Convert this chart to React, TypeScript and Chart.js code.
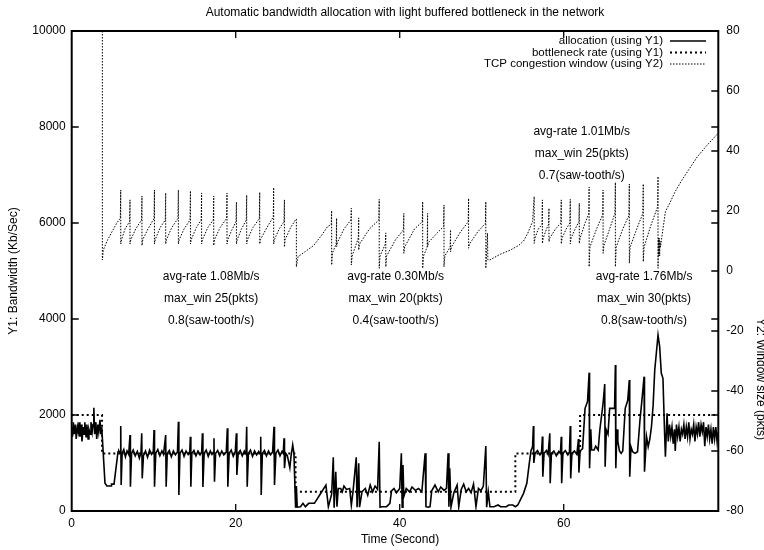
import React, { useEffect, useRef } from "react";
import { Chart, registerables } from "chart.js";

Chart.register(...registerables);

const FONT = '"Liberation Sans", Arial, Helvetica, sans-serif';

// ---------- text ----------
const titleText = "Automatic bandwidth allocation with light buffered bottleneck in the network";
const xTitle = "Time (Second)";
const y1Title = "Y1: Bandwidth (Kb/Sec)";
const y2Title = "Y2: Window size (pkts)";
const legendLabels = [
  "allocation (using Y1)",
  "bottleneck rate (using Y1)",
  "TCP congestion window (using Y2)",
];
const noteA = ["avg-rate 1.08Mb/s", "max_win 25(pkts)", "0.8(saw-tooth/s)"];
const noteB = ["avg-rate 0.30Mb/s", "max_win 20(pkts)", "0.4(saw-tooth/s)"];
const noteC = ["avg-rate 1.76Mb/s", "max_win 30(pkts)", "0.8(saw-tooth/s)"];
const noteD = ["avg-rate 1.01Mb/s", "max_win 25(pkts)", "0.7(saw-tooth/s)"];

// ---------- ticks ----------
const xTicks = [0, 20, 40, 60];
const y1Ticks = [0, 2000, 4000, 6000, 8000, 10000];
const y2Ticks = [-80, -60, -40, -20, 0, 20, 40, 60, 80];
const xMax = 78.85;

// ---------- data: [time (s), value] ----------
const bottleneck: [number, number][] = [
  [0, 2000], [3.7, 2000], [3.7, 1200], [27.3, 1200], [27.3, 400], [54.1, 400],
  [54.1, 1200], [62.0, 1200], [62.0, 2000], [78.85, 2000],
];

const allocation: [number, number][] = [
  [0, 1750], [0.1, 1550], [0.2, 1850], [0.3, 1600], [0.45, 1800], [0.55, 1500], [0.7, 1750],
  [0.8, 1650], [0.9, 1850], [1.0, 1550], [1.15, 1800], [1.25, 1450], [1.4, 1750], [1.5, 1600],
  [1.6, 1850], [1.75, 1550], [1.85, 1800], [2.0, 1500], [2.1, 1700], [2.25, 1600], [2.35, 1850],
  [2.5, 1650], [2.6, 1800], [2.7, 2150], [2.8, 1600], [2.95, 1850], [3.05, 1500], [3.2, 1800],
  [3.3, 1650], [3.45, 1900], [3.55, 1600], [3.66, 1750], [4.06, 577], [4.3, 520], [4.8, 520],
  [4.85, 560], [5.16, 560], [5.65, 1235],
  [5.75, 1250], [5.9, 1200], [5.98, 1770], [6.03, 540], [6.15, 1200], [6.35, 1280], [6.55, 1130],
  [6.75, 1250], [6.95, 1180], [7.11, 1583], [7.16, 506], [7.3, 1200], [7.5, 1270], [7.75, 1150],
  [8.0, 1240], [8.25, 1100], [8.45, 1220], [8.54, 1618], [8.6, 680], [8.75, 1150], [9.0, 1250],
  [9.25, 1120], [9.5, 1270], [9.75, 1180], [9.95, 1240], [10.04, 1687], [10.1, 506], [10.25, 1200],
  [10.5, 1280], [10.75, 1150], [11.0, 1250], [11.2, 1180], [11.46, 1583], [11.52, 506], [11.65, 1200],
  [11.9, 1260], [12.15, 1130], [12.4, 1250], [12.65, 1170], [12.9, 1230], [13.01, 1860], [13.07, 333],
  [13.2, 1200], [13.45, 1270], [13.7, 1140], [13.95, 1250], [14.2, 1180], [14.4, 1240], [14.47, 1548],
  [14.53, 506], [14.65, 1200], [14.9, 1260], [15.15, 1150], [15.4, 1250], [15.65, 1170], [15.85, 1230],
  [15.94, 1618], [16.0, 500], [16.15, 1200], [16.4, 1270], [16.65, 1140], [16.9, 1250], [17.1, 1180],
  [17.28, 1230], [17.35, 1514], [17.41, 610], [17.55, 1200], [17.8, 1260], [18.05, 1150], [18.3, 1250],
  [18.55, 1170], [18.85, 1230], [18.98, 1722], [19.04, 506], [19.2, 1200], [19.45, 1270], [19.7, 1140],
  [19.95, 1240], [20.08, 1618], [20.14, 750], [20.3, 1200], [20.55, 1260], [20.8, 1150], [21.05, 1250],
  [21.25, 1190], [21.34, 1756], [21.4, 506], [21.55, 1200], [21.8, 1270], [22.05, 1140], [22.3, 1250],
  [22.55, 1170], [22.8, 1240], [22.98, 1200], [23.05, 1548], [23.11, 333], [23.25, 1200], [23.5, 1260],
  [23.75, 1150], [24.0, 1250], [24.25, 1170], [24.5, 1230], [24.67, 1756], [24.73, 540], [24.9, 1200],
  [25.15, 1270], [25.4, 1150], [25.65, 1240], [25.8, 1200], [25.89, 1514], [25.95, 890], [26.1, 1200],
  [26.3, 1150], [26.6, 900], [26.75, 1150], [26.95, 1375], [27.1, 1200],
  [27.3, 70], [27.4, 520], [27.5, 80], [27.9, 90], [28.2, 160], [28.5, 90], [28.9, 160], [29.6, 160],
  [30.3, 350], [31.0, 540], [31.3, 90], [31.7, 350], [31.9, 1118], [32.0, 70], [32.2, 819], [32.35, 90],
  [32.5, 470], [32.8, 470], [33.0, 400], [33.2, 520], [33.5, 450], [33.9, 470], [34.1, 120], [34.3, 400],
  [34.7, 1118], [34.8, 80], [35.0, 993], [35.1, 80], [35.4, 400], [35.8, 470], [36.1, 330], [36.4, 540],
  [36.7, 400], [37.0, 520], [37.3, 450], [37.5, 1444], [37.6, 80], [37.8, 90], [38.4, 90], [38.8, 160],
  [39.0, 420], [39.3, 470], [39.6, 380], [40.0, 470], [40.2, 1201], [40.3, 80], [40.4, 958], [40.5, 300],
  [40.8, 470], [41.2, 400], [41.5, 500], [41.9, 430], [42.3, 470], [42.7, 400], [43.1, 1201], [43.2, 90],
  [43.5, 80], [43.7, 90], [43.9, 420], [44.3, 540], [44.7, 400], [45.0, 500], [45.4, 430], [45.7, 470],
  [45.9, 1201], [46.0, 90], [46.1, 889], [46.25, 80], [46.6, 380], [47.0, 541], [47.2, 90], [47.5, 450],
  [47.8, 560], [48.1, 400], [48.4, 470], [48.7, 380], [49.0, 560], [49.3, 90], [49.6, 470], [49.9, 420],
  [50.2, 520], [50.5, 1354], [50.6, 80], [50.8, 400], [51.0, 90], [51.5, 90], [52.0, 125], [52.3, 90],
  [53.0, 90], [53.3, 125], [53.8, 125], [54.1, 90], [54.4, 125], [55.1, 368], [55.5, 577], [55.8, 993],
  [56.0, 1250], [56.2, 1340], [56.3, 1770], [56.35, 1000], [56.5, 1200], [56.8, 1260], [57.1, 1170],
  [57.3, 1230], [57.4, 1550], [57.45, 715], [57.6, 1200], [57.9, 1260], [58.1, 1180], [58.3, 1618],
  [58.35, 577], [58.5, 1200], [58.8, 1250], [59.1, 1150], [59.4, 1240], [59.6, 1200], [59.7, 1548],
  [59.75, 577], [59.9, 1200], [60.2, 1260], [60.5, 1170], [60.7, 1230], [60.8, 1770], [60.85, 680],
  [61.0, 1200], [61.3, 1250], [61.6, 1180], [61.8, 1500], [61.85, 800], [62.0, 1250],
  [62.3, 1300], [62.6, 2139], [62.9, 2277], [63.1, 2882], [63.15, 889], [63.3, 1700], [63.4, 1271],
  [63.7, 1271], [63.9, 1350], [64.2, 1271], [64.4, 1687], [64.8, 2243], [65.0, 2645], [65.05, 923],
  [65.2, 1687], [65.4, 1600], [65.6, 2139], [66.0, 2139], [66.2, 2139], [66.3, 3041], [66.35, 889],
  [66.5, 1700], [66.6, 1444], [66.8, 1250], [67.0, 1200], [67.2, 1250], [67.5, 2139], [67.8, 2300],
  [68.0, 2729], [68.05, 715], [68.2, 1340], [68.4, 1235], [68.7, 1201], [69.0, 1235], [69.3, 1895],
  [69.5, 2243], [69.8, 2798], [69.85, 819], [70.1, 1548], [70.3, 1340], [70.5, 1500], [70.7, 1757],
  [70.9, 2200], [71.1, 2937], [71.5, 3666], [71.7, 3423], [71.9, 2868], [72.1, 2764], [72.3, 1618],
  [72.4, 1131], [72.6, 2035],
  [72.75, 1450], [72.9, 1800], [73.05, 1550], [73.2, 1750], [73.35, 1400], [73.5, 1700], [73.6, 1250],
  [73.75, 1800], [73.9, 1550], [74.05, 1750], [74.2, 1450], [74.35, 1700], [74.5, 1600], [74.65, 1800],
  [74.8, 1500], [74.95, 1750], [75.1, 1550], [75.25, 1850], [75.4, 1500], [75.55, 1700], [75.7, 1600],
  [75.85, 1800], [76.0, 1450], [76.15, 1750], [76.3, 1600], [76.45, 1850], [76.6, 1550], [76.75, 1800],
  [76.9, 1650], [77.05, 1850], [77.2, 1350], [77.35, 1750], [77.5, 1550], [77.65, 1800], [77.8, 1500],
  [77.95, 1700], [78.1, 1400], [78.25, 1750], [78.4, 1500], [78.55, 1750], [78.7, 1450], [78.85, 1650],
];

const tcpWindow: [number, number][] = [
  [3.74, 80], [3.74, 3.7], [3.85, 7], [4.4, 10.5], [5.0, 13.5], [5.5, 16], [5.93, 17.6],
  [5.98, 27], [5.98, 9], [6.08, 10.5], [6.5, 14], [7.06, 16.5], [7.11, 23.7], [7.11, 9], [7.21, 10.5],
  [7.8, 14], [8.52, 17], [8.57, 25], [8.57, 8.5], [8.67, 10.5], [9.3, 14], [10.04, 17.5], [10.09, 27],
  [10.09, 9], [10.19, 10.5], [10.8, 14.5], [11.41, 17], [11.46, 26], [11.46, 9], [11.56, 10.5],
  [12.2, 14.5], [12.96, 17.5], [13.01, 27], [13.01, 9], [13.11, 10.5], [13.7, 14], [14.43, 17],
  [14.48, 26.7], [14.48, 9], [14.58, 10.5], [15.2, 14.5], [15.79, 17], [15.84, 26], [15.84, 9],
  [15.94, 10.5], [16.6, 14.5], [17.27, 17], [17.32, 25], [17.32, 8.5], [17.42, 10.5], [18.1, 14.5],
  [18.89, 17.5], [18.94, 26], [18.94, 9], [19.04, 10.5], [19.5, 13.5], [20.04, 16.5], [20.09, 23],
  [20.09, 9], [20.19, 10.5], [20.7, 14], [21.29, 17], [21.34, 25.3], [21.34, 9], [21.44, 10.5],
  [22.1, 14.5], [22.88, 17.5], [22.93, 26.2], [22.93, 9], [23.03, 10.5], [23.8, 14.5], [24.58, 18],
  [24.63, 27.8], [24.63, 9], [24.73, 10.5], [25.3, 14], [25.89, 16.5], [25.94, 23.7], [25.94, 8],
  [26.04, 10.5], [26.7, 14.5], [27.35, 17.3], [27.4, 17.3],
  [27.4, 1.4], [27.6, 4.8], [28.5, 6.5], [29.5, 8.5], [30.5, 12], [31.2, 14.8], [31.65, 15.5],
  [31.7, 20.1], [31.7, 2], [31.8, 6], [32.25, 9], [32.3, 17.6], [32.3, 8.1], [32.4, 9.5], [33.2, 14],
  [34.05, 17], [34.1, 20.9], [34.1, 2], [34.2, 5], [34.95, 11], [35.0, 17.7], [35.0, 7], [35.1, 9],
  [36.3, 14], [37.45, 17], [37.5, 23.9], [37.5, 0.9], [37.6, 5], [38.25, 9], [38.3, 12.7], [38.3, 1.4],
  [38.4, 5], [39.5, 10.5], [40.45, 13.7], [40.5, 19.2], [40.5, 5.9], [40.6, 8], [41.8, 14],
  [42.75, 16.4], [42.8, 23.1], [42.8, 0.9], [42.9, 5], [43.35, 8], [43.4, 19.2], [43.4, 8.1],
  [43.5, 9.5], [44.5, 12.5], [45.35, 14.8], [45.4, 22], [45.4, 1.4], [45.5, 5], [46.15, 8],
  [46.2, 13.7], [46.2, 6.4], [46.3, 8], [47.4, 13], [48.35, 16.4], [48.4, 24.2], [48.4, 7.6],
  [48.5, 9], [49.5, 13], [50.45, 15.9], [50.5, 23.1], [50.5, 0.9], [50.6, 6], [50.7, 12.6],
  [50.75, 3.7], [51.0, 3.7], [52.2, 5.5], [53.5, 7], [54.5, 8.5], [55.1, 10], [55.6, 12.5],
  [56.2, 16.5], [56.4, 24.8], [56.4, 9.2], [56.5, 11], [56.9, 14], [57.35, 15.5], [57.4, 23.7],
  [57.4, 9.2], [57.5, 11], [57.9, 14], [58.15, 15.5], [58.2, 20.9], [58.2, 9.8], [58.3, 11],
  [59.0, 14], [59.65, 16], [59.7, 23.7], [59.7, 9], [59.8, 11], [60.3, 14], [60.75, 16], [60.8, 23.9],
  [60.8, 9], [60.9, 11], [61.4, 14], [61.85, 16.5], [61.9, 22.6], [61.9, 9.2], [62.0, 11], [62.6, 16],
  [63.05, 19], [63.1, 28], [63.1, 1.4], [63.2, 8], [64.0, 14], [64.75, 18.7], [64.8, 27], [64.8, 5.9],
  [64.9, 8.5], [65.6, 14], [66.25, 19.3], [66.3, 29.5], [66.3, 1.4], [66.4, 8], [67.2, 14],
  [67.95, 18.5], [68.0, 29], [68.0, 2.6], [68.1, 8], [68.9, 14], [69.65, 19.2], [69.7, 29],
  [69.7, 3.1], [69.8, 8], [70.6, 15], [71.45, 21.4], [71.5, 31.5], [71.5, 0.9], [71.55, 11],
  [71.6, 5], [71.65, 11], [71.7, 5], [71.75, 10], [71.8, 8], [72.0, 12], [72.4, 19.8], [73.0, 23],
  [73.6, 26.5], [74.3, 29.8], [75.3, 34], [76.3, 38.1], [77.5, 42], [78.85, 46],
];

const toXY = (arr: [number, number][]) => arr.map(([x, y]) => ({ x, y }));

const overlayPlugin = {
  id: "gnuplotOverlay",
  afterDraw(chart: any) {
    const { ctx, chartArea: a, scales } = chart;
    const sx = scales.x, sy = scales.y, sy2 = scales.y2;
    ctx.save();
    ctx.setLineDash([]);
    ctx.strokeStyle = "#000";
    ctx.fillStyle = "#000";

    // border
    ctx.lineWidth = 2;
    ctx.strokeRect(a.left, a.top, a.right - a.left, a.bottom - a.top);

    // inward ticks (mirrored for x and y1)
    const T = 7;
    ctx.lineWidth = 1.3;
    ctx.beginPath();
    for (const v of xTicks) {
      const p = sx.getPixelForValue(v);
      if (p <= a.left + 1) continue;
      ctx.moveTo(p, a.bottom); ctx.lineTo(p, a.bottom - T);
      ctx.moveTo(p, a.top); ctx.lineTo(p, a.top + T);
    }
    for (const v of y1Ticks) {
      const p = sy.getPixelForValue(v);
      if (p >= a.bottom - 1 || p <= a.top + 1) continue;
      ctx.moveTo(a.left, p); ctx.lineTo(a.left + T, p);
      ctx.moveTo(a.right, p); ctx.lineTo(a.right - T, p);
    }
    for (const v of y2Ticks) {
      const p = sy2.getPixelForValue(v);
      if (p >= a.bottom - 1 || p <= a.top + 1) continue;
      ctx.moveTo(a.right, p); ctx.lineTo(a.right - T, p);
    }
    ctx.stroke();

    // titles
    ctx.font = `12px ${FONT}`;
    ctx.textAlign = "center";
    ctx.textBaseline = "middle";
    ctx.fillText(titleText, 405, 13);
    ctx.fillText(xTitle, 400, 540);

    ctx.save();
    ctx.translate(14, (a.top + a.bottom) / 2);
    ctx.rotate(-Math.PI / 2);
    ctx.fillText(y1Title, 0, 0);
    ctx.restore();

    ctx.save();
    ctx.translate(760, 318);
    ctx.rotate(Math.PI / 2);
    ctx.textAlign = "left";
    ctx.fillText(y2Title, 0, 0);
    ctx.restore();

    // legend
    const rows = [41, 52.5, 64];
    const styles = [
      { w: 1.5, d: [] as number[] },
      { w: 2, d: [2, 3] },
      { w: 1, d: [1.5, 1.5] },
    ];
    ctx.font = `11.5px ${FONT}`;
    ctx.textAlign = "right";
    legendLabels.forEach((lab, i) => {
      ctx.setLineDash([]);
      ctx.fillText(lab, 663, rows[i]);
      ctx.beginPath();
      ctx.lineWidth = styles[i].w;
      ctx.setLineDash(styles[i].d);
      ctx.moveTo(670, rows[i]);
      ctx.lineTo(706, rows[i]);
      ctx.stroke();
    });
    ctx.setLineDash([]);

    // annotations
    ctx.font = `12px ${FONT}`;
    ctx.textAlign = "center";
    const drawNote = (lines: string[], xv: number, yv: number) => {
      const px = sx.getPixelForValue(xv);
      const py = sy.getPixelForValue(yv);
      lines.forEach((l, i) => ctx.fillText(l, px, py + i * 22));
    };
    drawNote(noteA, 17.0, 4875);
    drawNote(noteB, 39.5, 4875);
    drawNote(noteC, 69.8, 4875);
    drawNote(noteD, 62.2, 7900);

    ctx.restore();
  },
};

export default function App() {
  const ref = useRef<HTMLCanvasElement>(null);

  useEffect(() => {
    const canvas = ref.current;
    if (!canvas) return;
    const tickFont = { family: FONT, size: 12 };
    const chart = new Chart(canvas, {
      type: "line",
      data: {
        datasets: [
          {
            label: legendLabels[2],
            data: toXY(tcpWindow),
            yAxisID: "y2",
            borderColor: "#000",
            borderWidth: 1,
            borderDash: [1.5, 1.5],
            pointRadius: 0,
            tension: 0,
            fill: false,
          },
          {
            label: legendLabels[1],
            data: toXY(bottleneck),
            yAxisID: "y",
            borderColor: "#000",
            borderWidth: 2,
            borderDash: [2, 3],
            pointRadius: 0,
            tension: 0,
            fill: false,
          },
          {
            label: legendLabels[0],
            data: toXY(allocation),
            yAxisID: "y",
            borderColor: "#000",
            borderWidth: 1.6,
            pointRadius: 0,
            tension: 0,
            fill: false,
          },
        ],
      },
      options: {
        animation: false,
        responsive: false,
        maintainAspectRatio: false,
        events: [],
        layout: { padding: { top: 31, left: 0, right: 0, bottom: 0 } },
        plugins: {
          legend: { display: false },
          title: { display: false },
          tooltip: { enabled: false },
        },
        scales: {
          x: {
            type: "linear",
            position: "bottom",
            min: 0,
            max: xMax,
            grid: { display: false, drawTicks: false },
            border: { display: false },
            afterBuildTicks: (s: any) => { s.ticks = xTicks.map((v) => ({ value: v })); },
            afterFit: (s: any) => { s.height = 39; },
            ticks: {
              color: "#000",
              font: tickFont,
              padding: 5,
              maxRotation: 0,
              autoSkip: false,
              callback: (v: any) => String(v),
            },
          },
          y: {
            type: "linear",
            position: "left",
            min: 0,
            max: 10000,
            grid: { display: false, drawTicks: false },
            border: { display: false },
            afterBuildTicks: (s: any) => { s.ticks = y1Ticks.map((v) => ({ value: v })); },
            afterFit: (s: any) => { s.width = 71.7; },
            ticks: { color: "#000", font: tickFont, padding: 6, callback: (v: any) => String(v) },
          },
          y2: {
            type: "linear",
            position: "right",
            min: -80,
            max: 80,
            grid: { display: false, drawTicks: false },
            border: { display: false },
            afterBuildTicks: (s: any) => { s.ticks = y2Ticks.map((v) => ({ value: v })); },
            afterFit: (s: any) => { s.width = 45.7; },
            ticks: { color: "#000", font: tickFont, padding: 8, callback: (v: any) => String(v) },
          },
        },
      },
      plugins: [overlayPlugin],
    } as any);
    return () => chart.destroy();
  }, []);

  return (
    <div style={{ position: "fixed", left: 0, top: 0, width: 764, height: 550, background: "#fff" }}>
      <canvas ref={ref} width={764} height={550} style={{ display: "block", width: 764, height: 550 }} />
    </div>
  );
}
